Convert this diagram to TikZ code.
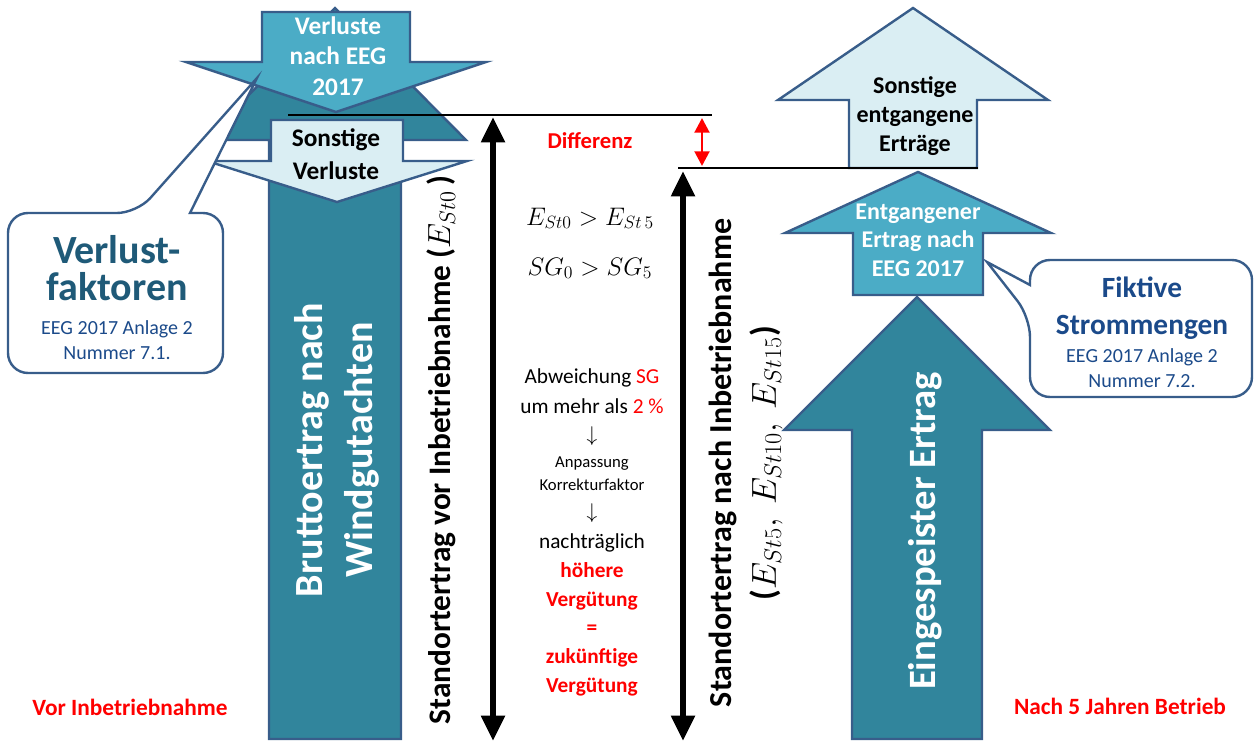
\RequirePackage{fix-cm}
\documentclass[tikz,border=0pt]{standalone}
\usepackage{fontspec}
\setmainfont{Carlito}
\usepackage{tikz}
\usetikzlibrary{arrows.meta}
\definecolor{dteal}{HTML}{31859C}
\definecolor{mteal}{HTML}{4BACC6}
\definecolor{lteal}{HTML}{DAEEF3}
\definecolor{edge}{HTML}{385D8A}
\definecolor{navyA}{HTML}{1F5A78}
\definecolor{navyB}{HTML}{1B4A8A}
\tikzset{blk/.style={draw=edge,line width=1.8pt,line join=miter},
  bubble/.style={draw=edge,line width=1.8pt,fill=white},
  ruler/.style={line width=2.2pt},
  yspan/.style={line width=4.5pt,{Triangle[length=19pt,width=17pt]}-{Triangle[length=19pt,width=17pt]}},
  gap/.style={red,line width=2.2pt,{Triangle[length=11pt,width=11pt]}-{Triangle[length=11pt,width=11pt]}},
  lbl/.style={align=center,inner sep=0pt}}
\newcommand{\sz}[2]{\fontsize{#1}{#2}\selectfont}
\newcommand{\blockarrow}[7][]{% [style] <x> <tip y> <head y> <end y> <half shaft> <half head>
  \draw[blk,#1] (#2,#3) -- (#2+#7,#4) -- (#2+#6,#4) -- (#2+#6,#5)
    -- (#2-#6,#5) -- (#2-#6,#4) -- (#2-#7,#4) -- cycle;}

\begin{document}
\begin{tikzpicture}[x=0.75pt,y=-0.75pt]
  \useasboundingbox (0,0) rectangle (1258,742);
  % vor Inbetriebnahme
  \blockarrow[fill=dteal]{335}{8}{140}{739}{66}{131}
  \blockarrow[fill=mteal]{336}{112}{62}{12}{74}{150}
  \blockarrow[fill=lteal]{337}{202}{161}{120}{66}{130}
  % nach 5 Jahren
  \blockarrow[fill=lteal]{913}{8}{100}{168}{64}{135}
  \blockarrow[fill=mteal]{918}{172}{233}{295}{65}{133}
  \blockarrow[fill=dteal]{917}{297}{430}{739}{65}{133}
  % Niveaus und Pfeile
  \coordinate (lvl0) at (288,115); \coordinate (lvl0e) at (712,115);
  \coordinate (lvl5) at (678,168); \coordinate (lvl5e) at (978,168);
  \draw[ruler] (lvl0) -- (lvl0e);
  \draw[ruler] (lvl5) -- (lvl5e);
  \coordinate (a0t) at (493,117); \coordinate (a0b) at (493,741);
  \coordinate (a5t) at (683,171); \coordinate (a5b) at (683,741);
  \draw[yspan] (a0t) -- (a0b);
  \draw[yspan] (a5t) -- (a5b);
  \coordinate (dT) at (702,118); \coordinate (dB) at (702,166);
  \draw[gap] (dT) -- (dB);
  % Sprechblasen
  \draw[bubble] (223,300) [rounded corners=15pt] -- (223,373) -- (8,373) -- (8,213) -- (137,213)
    [sharp corners] -- (257,78) -- (190,213) [rounded corners=15pt] -- (223,213) -- cycle;
  \draw[bubble] (1140,397) [rounded corners=15pt] -- (1030,397) -- (1030,317)
    [sharp corners] -- (987,262) -- (1030,285) [rounded corners=15pt] -- (1030,260) -- (1252,260) -- (1252,397) -- cycle;
  % Texte
  \node[lbl,text=white,font=\sz{19}{23}\bfseries] (tVerl) at (338,56) {Verluste\\nach EEG\\2017};
  \node[lbl,font=\sz{19}{25}\bfseries] (tSonV) at (336,154) {Sonstige\\Verluste};
  \node[lbl,text=white,font=\sz{30}{38}\bfseries,rotate=90] (tBrutto) at (337,450) {Bruttoertrag nach\\Windgutachten};
  \node[lbl,text=navyA,font=\sz{30}{28}\bfseries] (tVF) at (117,268) {Verlust-\\faktoren};
  \node[lbl,text=navyB,font=\sz{15}{19}] (tVFsrc) at (117,340) {EEG 2017 Anlage 2\\Nummer 7.1.};
  \node[lbl,text=red,font=\sz{17.5}{21}\bfseries] (tVor) at (130,707) {Vor Inbetriebnahme};
  \node[lbl,font=\sz{23.5}{28}\bfseries,rotate=90] (tStdVor) at (441,450) {Standortertrag vor Inbetriebnahme {\sz{24}{28}($E_{St0}$\,)}};
  \node[lbl,text=red,font=\sz{17}{21}\bfseries] (tDiff) at (590,141) {Differenz};
  \node[lbl,font=\sz{19}{21},anchor=base] (tEq1) at (590,225) {$E_{St0} > E_{St\,5}$};
  \node[lbl,font=\sz{19}{21},anchor=base] (tEq2) at (590,275) {$SG_0 > SG_5$};
  \node[lbl,font=\sz{16}{22.5}] (tAbw) at (592,391) {Abweichung \textcolor{red}{SG}\\um mehr als \textcolor{red}{2~\%}};
  \node[lbl,font=\sz{16}{20}] (tDn1) at (592,436) {$\downarrow$};
  \node[lbl,font=\sz{12.5}{17}] (tAnp) at (592,474) {Anpassung\\Korrekturfaktor};
  \node[lbl,font=\sz{16}{20}] (tDn2) at (592,513) {$\downarrow$};
  \node[lbl,font=\sz{16}{21.5}] (tNach) at (592,615) {nachträglich\\\textcolor{red}{\bfseries höhere}\\\textcolor{red}{\bfseries Vergütung}\\\textcolor{red}{\bfseries =}\\\textcolor{red}{\bfseries zukünftige}\\\textcolor{red}{\bfseries Vergütung}};
  \node[lbl,font=\sz{24}{33}\bfseries,rotate=90] (tStdNach) at (746,463) {Standortertrag nach Inbetriebnahme\\{\sz{26}{33}($E_{St5},\ E_{St10},\ E_{St15}$)}};
  \node[lbl,font=\sz{18}{21.5}\bfseries] (tSonE) at (915,116) {Sonstige\\entgangene\\Erträge};
  \node[lbl,text=white,font=\sz{18}{21.5}\bfseries] (tEntg) at (918,240) {Entgangener\\Ertrag nach\\EEG 2017};
  \node[lbl,text=white,font=\sz{29}{35}\bfseries,rotate=90] (tEinsp) at (925,531) {Eingespeister Ertrag};
  \node[lbl,text=navyB,font=\sz{22}{28}\bfseries] (tFS) at (1142,308) {Fiktive\\Strommengen};
  \node[lbl,text=navyB,font=\sz{15}{19}] (tFSsrc) at (1142,368) {EEG 2017 Anlage 2\\Nummer 7.2.};
  \node[lbl,text=red,font=\sz{17.5}{21}\bfseries] (tNach5) at (1120,706) {Nach 5 Jahren Betrieb};
\end{tikzpicture}
\end{document}
